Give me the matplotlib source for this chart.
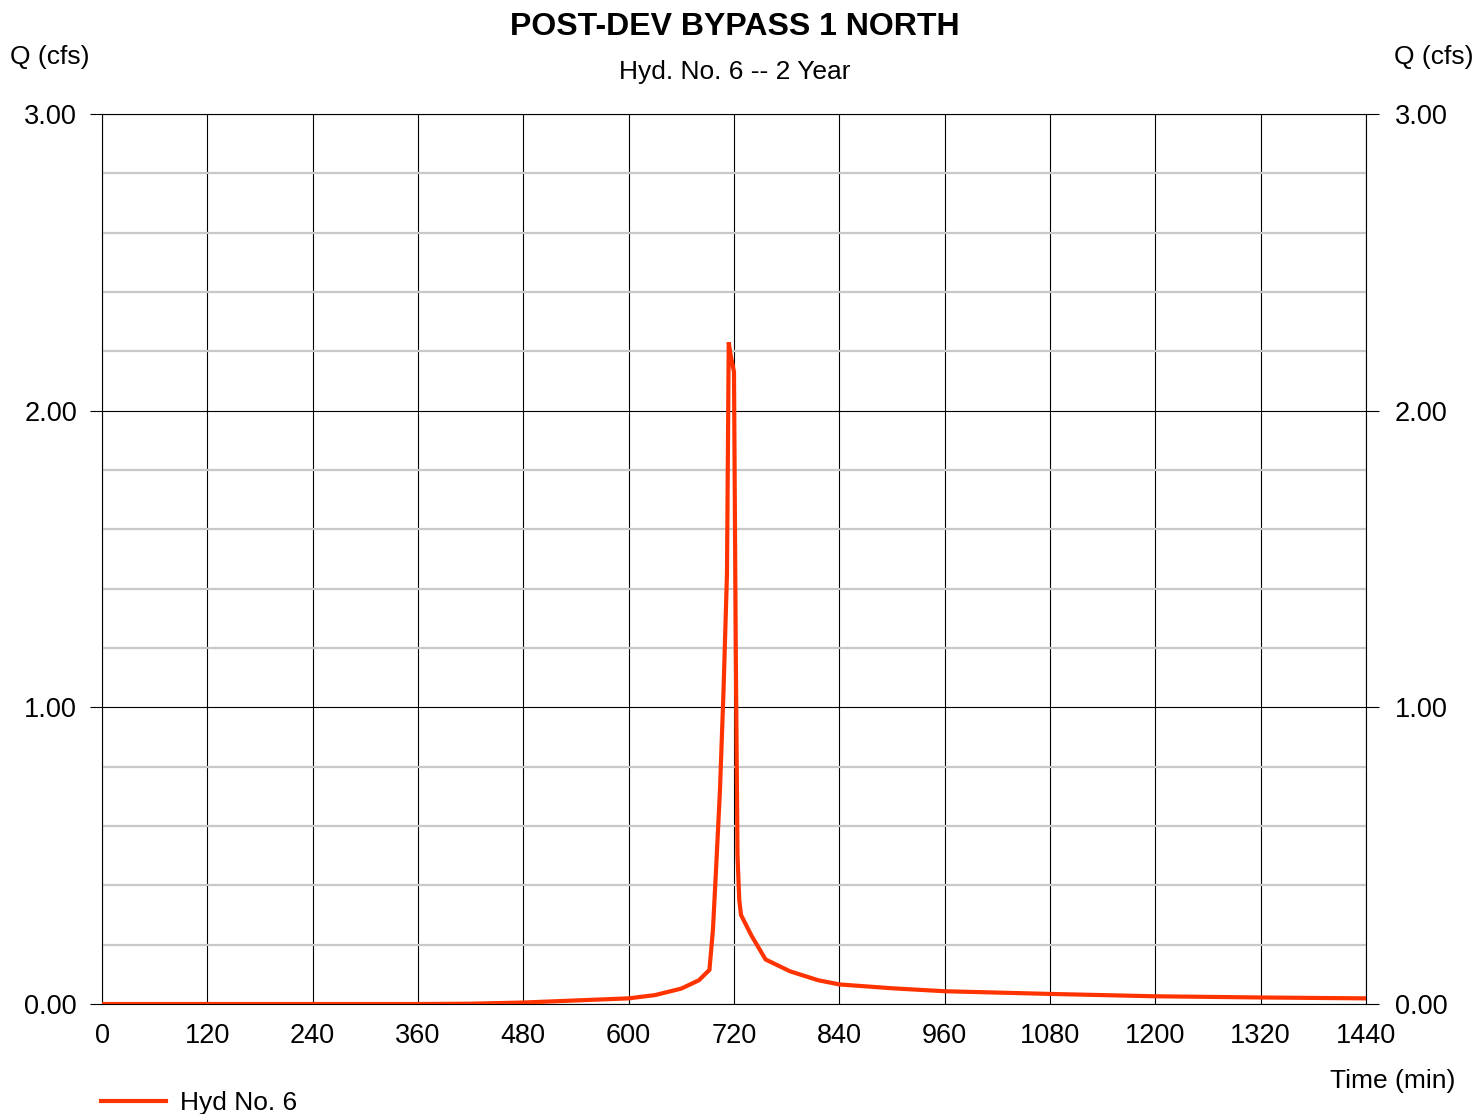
import matplotlib.pyplot as plt
from matplotlib.ticker import MultipleLocator

plt.rcParams['font.family'] = ['Liberation Sans', 'DejaVu Sans']

# Hydrograph ordinates, time in minutes, flow in cfs
time_min = [0, 120, 240, 360, 420, 480, 540, 600, 630, 660, 680, 692, 696, 700,
            704, 708, 712, 714, 716, 718, 720, 722, 724, 726, 728, 740, 756,
            784, 816, 840, 900, 960, 1080, 1200, 1320, 1440]
flow_cfs = [0.0, 0.0, 0.0, 0.0, 0.001, 0.005, 0.012, 0.019, 0.03, 0.052, 0.08,
            0.115, 0.25, 0.48, 0.72, 1.05, 1.45, 2.23, 2.19, 2.16, 2.13, 1.20,
            0.50, 0.35, 0.30, 0.23, 0.15, 0.11, 0.08, 0.066, 0.053, 0.043,
            0.034, 0.026, 0.022, 0.019]

x_ticks = [0, 120, 240, 360, 480, 600, 720, 840, 960, 1080, 1200, 1320, 1440]
y_ticks = [0, 1, 2, 3]

fig = plt.figure(figsize=(14.76, 11.14), dpi=100)
ax = fig.add_axes([102 / 1476, 110 / 1114, 1264 / 1476, 890 / 1114])

ax.plot(time_min, flow_cfs, color='#ff3300', lw=3.0, label='Hyd No. 6',
        solid_joinstyle='miter', zorder=3)

ax.set_xlim(0, 1440)
ax.set_ylim(0, 3)
ax.set_xticks(x_ticks)
ax.set_yticks(y_ticks)
ax.set_yticklabels([f'{v:.2f}' for v in y_ticks])
ax.yaxis.set_minor_locator(MultipleLocator(0.2))

ax.grid(which='major', color='black', lw=0.8)
ax.grid(which='minor', axis='y', color='#c8c8c8', lw=1.6)
ax.set_axisbelow(True)

for s in ax.spines.values():
    s.set_color('black')
    s.set_linewidth(0.8)

ax.tick_params(axis='x', which='both', length=0, pad=14, labelsize=19.5)
ax.tick_params(axis='y', which='major', length=9, width=0.8, pad=9,
               labelsize=19.5, left=True, right=True, labelright=True)
ax.tick_params(axis='y', which='minor', length=0)
# right-hand labels sit a little further out
for t in ax.yaxis.get_major_ticks():
    t.label2.set_x(1.003)

fig.text(735 / 1476, 1 - 27 / 1114, 'POST-DEV BYPASS 1 NORTH', ha='center',
         va='center', fontsize=23, fontweight='bold')
fig.text(735 / 1476, 1 - 72 / 1114, 'Hyd. No. 6 -- 2 Year', ha='center',
         va='center', fontsize=19)
fig.text(10 / 1476, 1 - 57 / 1114, 'Q (cfs)', ha='left', va='center',
         fontsize=19)
fig.text(1474 / 1476, 1 - 57 / 1114, 'Q (cfs)', ha='right', va='center',
         fontsize=19)
fig.text(1455 / 1476, 1 - 1081 / 1114, 'Time (min)', ha='right',
         va='center', fontsize=19)

ax.legend(loc='center left', bbox_to_anchor=(101 / 1476, 1 - 1103 / 1114),
          bbox_transform=fig.transFigure, frameon=False, fontsize=19,
          borderpad=0, borderaxespad=0, handlelength=2.45, handletextpad=0.55)

fig.savefig('out.png', dpi=100)
